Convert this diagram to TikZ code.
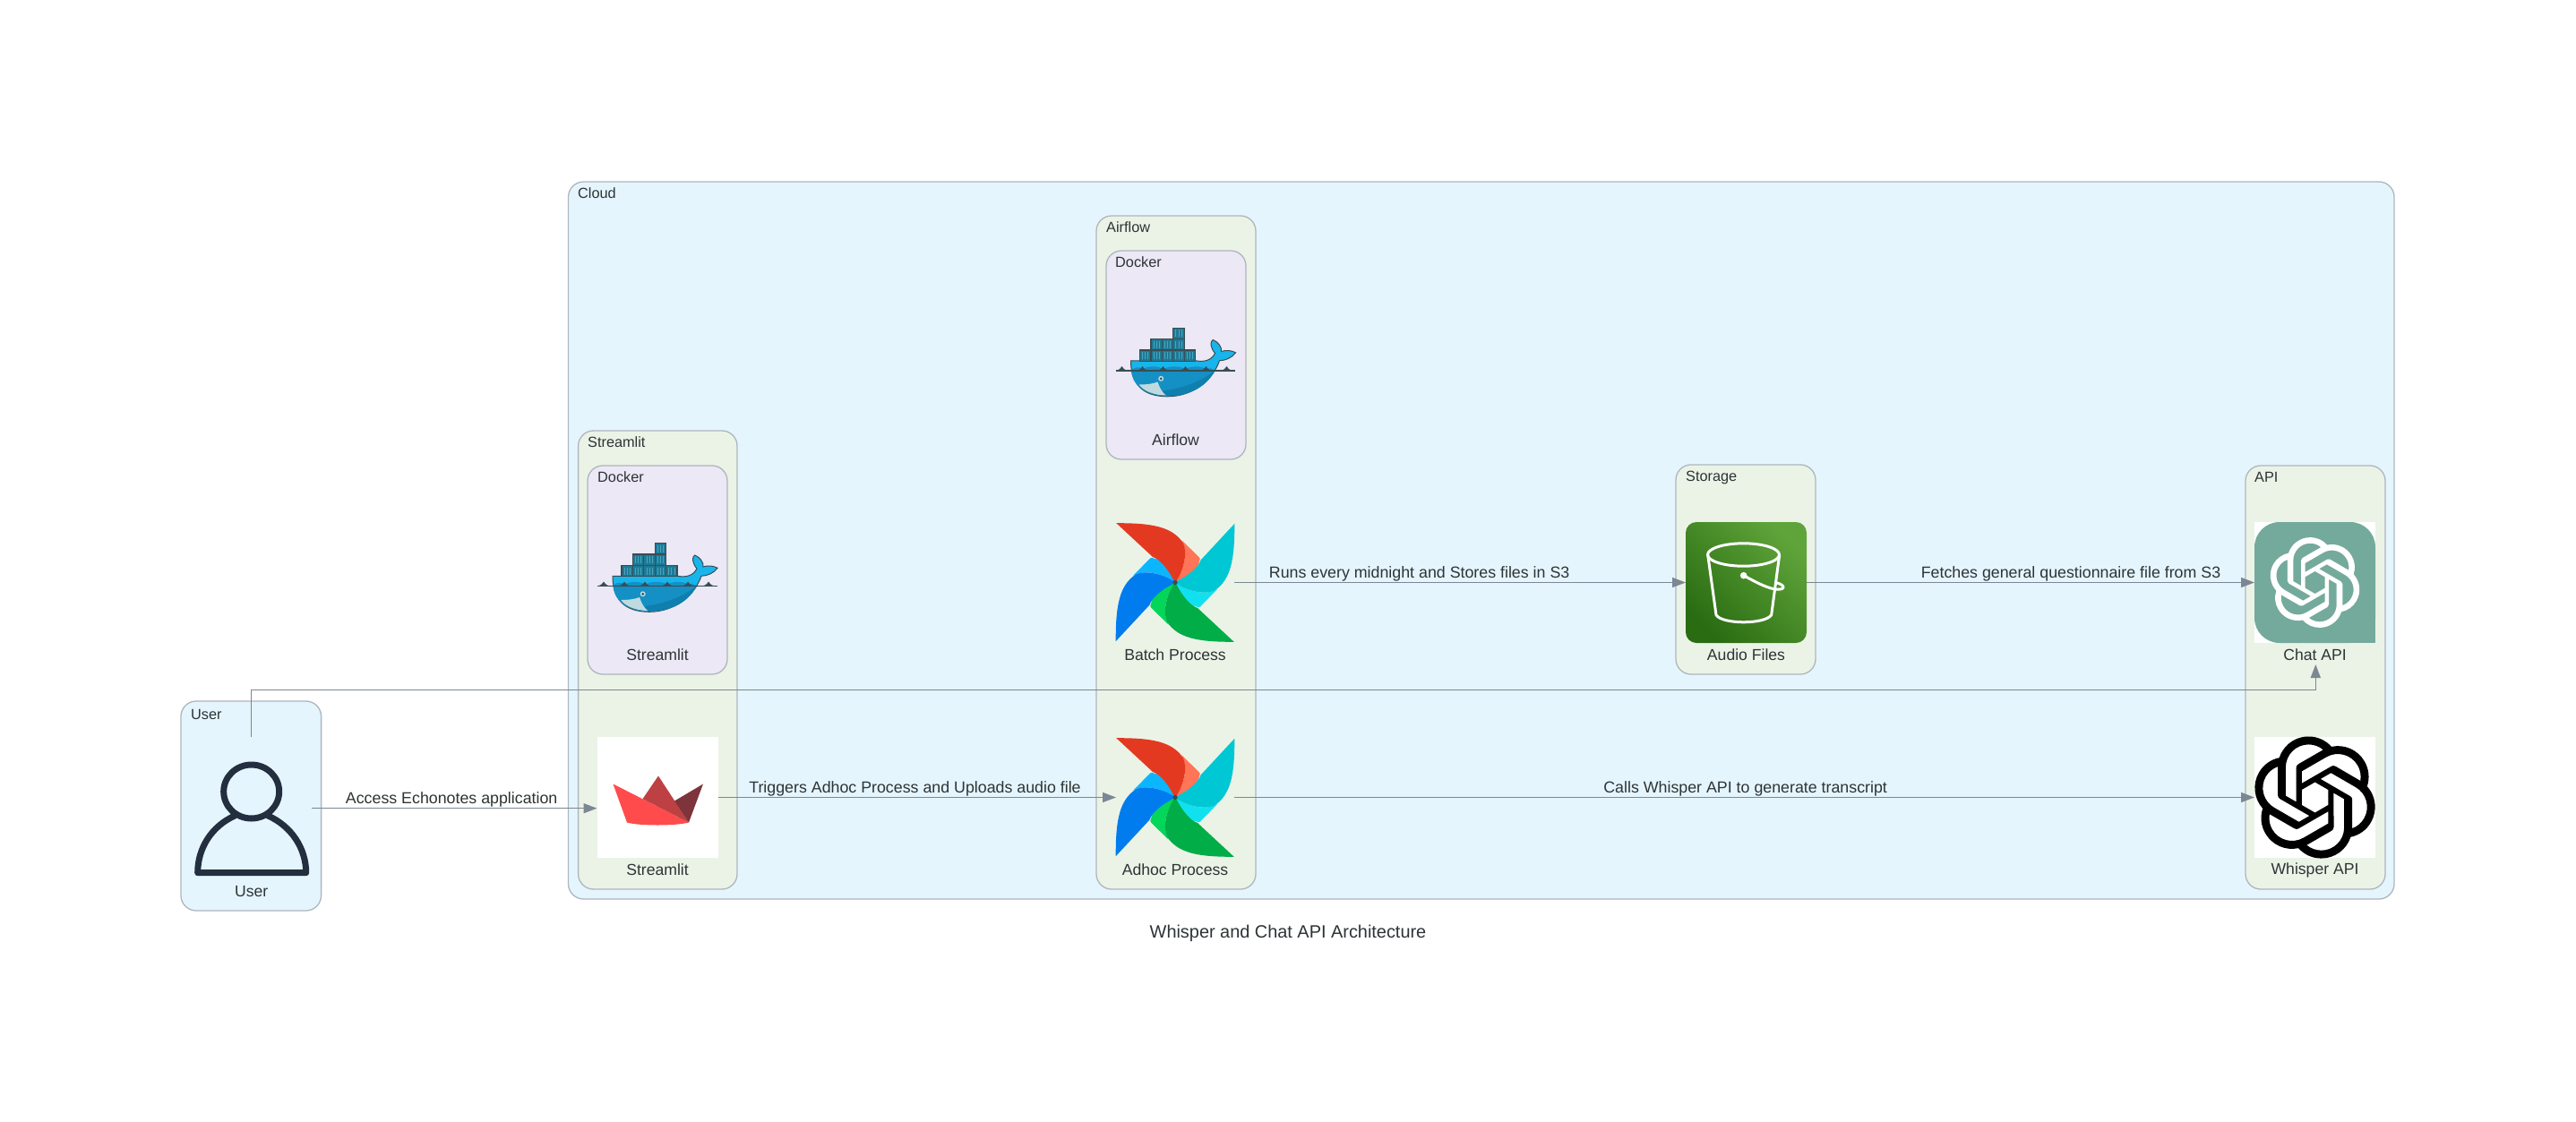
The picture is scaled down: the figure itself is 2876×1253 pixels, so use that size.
\documentclass[tikz,border=0pt]{standalone}
\usepackage{fontspec}
\setmainfont{Liberation Sans}
\usetikzlibrary{arrows.meta,svg.path}
\definecolor{clusterblue}{HTML}{E5F5FD}
\definecolor{clustergreen}{HTML}{EBF3E7}
\definecolor{clusterviolet}{HTML}{ECE8F6}
\definecolor{clusterline}{HTML}{AEB6BE}
\definecolor{edgegrey}{HTML}{7B8793}
\definecolor{inkgrey}{HTML}{2D3436}
\definecolor{persondark}{HTML}{232F3E}
\definecolor{chatgreen}{HTML}{74AA9C}
\definecolor{bucketlow}{HTML}{2A6C12}
\definecolor{buckethigh}{HTML}{5FA43A}
\definecolor{millred}{HTML}{E43921}
\definecolor{millsalmon}{HTML}{FF7557}
\definecolor{millcyan}{HTML}{00C7D4}
\definecolor{millaqua}{HTML}{11E1EE}
\definecolor{millgreen}{HTML}{00AD46}
\definecolor{milllime}{HTML}{04D659}
\definecolor{millblue}{HTML}{017CEE}
\definecolor{millsky}{HTML}{0CB6FF}
\definecolor{crownred}{HTML}{FF4B4B}
\definecolor{crownmid}{HTML}{BD4043}
\definecolor{crowndark}{HTML}{7D353B}
\definecolor{whaleline}{HTML}{394D54}
\definecolor{whaletop}{HTML}{17B5EB}
\definecolor{whalebody}{HTML}{1490C4}
\definecolor{whaledeep}{HTML}{0F7FAE}
\definecolor{whalebelly}{HTML}{BFDBE0}
\definecolor{boxteal}{HTML}{1E7A96}
\definecolor{boxlight}{HTML}{47A6BE}
\newcommand{\personlogo}[1]{
  \begin{scope}[shift={(#1)},draw=persondark,line width=7pt,line join=round]
    \draw (0,-18.7) ellipse (31pt and 30pt);
    \draw (-18,8) .. controls (-45,20) and (-60,45) .. (-60,72) -- (61,72)
      .. controls (61,45) and (45,20) .. (18,8);
  \end{scope}
}
\newcommand{\crownlogo}[1]{
  \begin{scope}[shift={(#1)}]
    \fill[crownred,line join=round] (-49.5,-15) -- (35,28) .. controls (20,32) and (-20,32) .. (-34,28) -- cycle;
    \fill[crownmid] (-16.5,1.7) -- (1,-24) -- (35,28) -- cycle;
    \fill[crowndark] (19,4) -- (51,-15) -- (35,28) -- cycle;
  \end{scope}
}
\newcommand{\dockerwhale}[1]{
  \begin{scope}[shift={(#1)}]
    % hull
    \fill[whaletop,draw=whaleline,line width=1pt] (-50,-2.7) -- (22.7,-2.7)
      .. controls (32,-1) and (40,-3) .. (44,-11)
      .. controls (39,-17) and (38,-24) .. (41.7,-26)
      .. controls (47,-24) and (52,-18) .. (51,-13)
      .. controls (56,-15) and (63,-14) .. (67,-11.7)
      .. controls (63,-6) and (56,-3) .. (49,-2.7)
      .. controls (42,18) and (20,37.3) .. (-9,37.3)
      .. controls (-38,37.3) and (-50,22) .. (-50,-2.7) -- cycle;
    \fill[whalebody] (-49.5,7.5) .. controls (-44,4) and (-40,4) .. (-37,6.5)
      .. controls (-30,3) and (-20,3) .. (-14,6.5)
      .. controls (-6,3) and (4,3) .. (11,6.5)
      .. controls (18,3) and (28,3) .. (34,6.5)
      .. controls (38,5) and (41,6) .. (44,8)
      .. controls (36,24) and (18,36.8) .. (-9,36.8)
      .. controls (-36,36.8) and (-49.5,22) .. cycle;
    \fill[whaledeep] (44,8) .. controls (36,24) and (18,36.8) .. (-9,36.8)
      .. controls (-18,36.8) and (-25,35) .. (-30,32)
      .. controls (-5,32) and (25,24) .. cycle;
    \fill[whalebelly] (-40.7,24) .. controls (-32,24) and (-25,23) .. (-20,21)
      .. controls (-18,27) and (-15,33) .. (-10.7,36)
      .. controls (-24,36) and (-36,31) .. cycle;
    \draw[whaleline,line width=1.6pt] (-66.7,8.3) -- (66.7,8.3);
    \foreach \wavex in {-60,-37,-14,11,34,57}
      \fill[whaleline] (\wavex-6,8.3) .. controls (\wavex-2,7) and (\wavex-1,5) .. (\wavex,3.5)
        .. controls (\wavex+1,5) and (\wavex+2,7) .. (\wavex+6,8.3) -- cycle;
    \fill[whalebelly] (-16.3,17.3) circle (3pt);
    \fill[whaleline] (-16.3,17.3) circle (1.5pt);
    % containers
    \foreach \cx/\cy in {-40/-14.6,-27.6/-14.6,-15.2/-14.6,-2.8/-14.6,9.6/-14.6,-27.6/-27,-15.2/-27,-2.8/-27,-2.8/-39.4}{
      \fill[boxteal,draw=whaleline,line width=1.2pt] (\cx,\cy) rectangle ++(12.4,12.4);
      \foreach \cline in {3.1,6.2,9.3}
        \draw[boxlight,line width=.7pt] (\cx+\cline,\cy+2.2) -- ++(0,8);
    }
  \end{scope}
}
\newcommand{\airflowmill}[1]{
  \begin{scope}[shift={(#1)}]
    \foreach \ang/\bladelight in {0/millsalmon,90/millaqua,180/milllime,270/millsky}
      \fill[\bladelight,rotate=-\ang] (7.5,-47) -- (27,-28) .. controls (28,-26.5) and (28,-25) .. (27,-24)
        .. controls (26,-14) and (12,-5) .. (0,0)
        .. controls (12,-18) and (14,-35) .. cycle;
    \foreach \ang/\bladedark in {0/millred,90/millcyan,180/millgreen,270/millblue}
      \fill[\bladedark,rotate=-\ang] (-65.7,-66.3) .. controls (-25,-66.5) and (-3,-62) .. (9,-44)
        .. controls (14,-33) and (10,-15) .. (1,-1) -- (-2,-3)
        .. controls (-8,-15) and (-17,-26) .. (-25,-28.5) -- cycle;
    \fill[whaleline] (0,0) circle (2.7pt);
  \end{scope}
}
\newcommand{\bucketlogo}[1]{
  \begin{scope}[shift={(#1)},draw=white,line width=3pt,line join=round]
    \draw (-3,-31) ellipse (40pt and 12.7pt);
    \draw (-42.8,-31) -- (-33.5,36.2) .. controls (-27,47) and (21,47) .. (28.2,36.2) -- (37.2,-31);
    \fill[white] (-2.8,-7.8) circle (3.8pt);
    \draw (-2.8,-7.8) .. controls (8,-2) and (20,5) .. (32,7.5)
      .. controls (44,9) and (45,3) .. (33,0);
  \end{scope}
}
\newcommand{\openailogo}[3]{
  \begin{scope}[shift={(#2)},scale=#3,yscale=-1,shift={(-12pt,-12pt)}]
    \fill[#1,even odd rule] svg {M 22.2819 9.8211 a 5.9847 5.9847 0 0 0 -.5157 -4.9108 a 6.0462 6.0462 0 0 0 -6.5098 -2.9 A 6.0651 6.0651 0 0 0 4.9807 4.1818 a 5.9847 5.9847 0 0 0 -3.9977 2.9 a 6.0462 6.0462 0 0 0 .7427 7.0966 a 5.98 5.98 0 0 0 .511 4.9107 a 6.051 6.051 0 0 0 6.5146 2.9001 A 5.9847 5.9847 0 0 0 13.2599 24 a 6.0557 6.0557 0 0 0 5.7718 -4.2058 a 5.9894 5.9894 0 0 0 3.9977 -2.9001 a 6.0557 6.0557 0 0 0 -.7475 -7.0729 z
      M 13.2599 22.4292 a 4.4755 4.4755 0 0 1 -2.8764 -1.0408 l .1419 -.0804 l 4.7783 -2.7582 a .7948 .7948 0 0 0 .3927 -.6813 v -6.7369 l 2.02 1.1686 a .071 .071 0 0 1 .038 .052 v 5.5826 a 4.504 4.504 0 0 1 -4.4945 4.4944 z
      M 3.5992 18.3038 a 4.4708 4.4708 0 0 1 -.5346 -3.0137 l .142 .0852 l 4.783 2.7582 a .7712 .7712 0 0 0 .7806 0 l 5.8428 -3.3685 v 2.3324 a .0804 .0804 0 0 1 -.0332 .0615 L 9.74 19.9502 a 4.4992 4.4992 0 0 1 -6.1408 -1.6464 z
      M 2.3408 7.8956 a 4.485 4.485 0 0 1 2.3655 -1.9728 V 11.6 a .7664 .7664 0 0 0 .3879 .6765 l 5.8144 3.3543 l -2.0201 1.1685 a .0757 .0757 0 0 1 -.071 0 l -4.8303 -2.7865 A 4.504 4.504 0 0 1 2.3408 7.872 z
      M 18.9371 11.7514 L 13.1038 8.364 L 15.1192 7.2 a .0757 .0757 0 0 1 .071 0 l 4.8303 2.7913 a 4.4944 4.4944 0 0 1 -.6765 8.1042 v -5.6772 a .79 .79 0 0 0 -.407 -.667 z
      M 20.9478 8.7283 l -.142 -.0852 l -4.7735 -2.7818 a .7759 .7759 0 0 0 -.7854 0 L 9.409 9.2297 V 6.8974 a .0662 .0662 0 0 1 .0284 -.0615 l 4.8303 -2.7866 a 4.4992 4.4992 0 0 1 6.6802 4.66 z
      M 8.3065 12.863 l -2.02 -1.1638 a .0804 .0804 0 0 1 -.038 -.0567 V 6.0742 a 4.4992 4.4992 0 0 1 7.3757 -3.4537 l -.142 .0805 L 8.704 5.459 a .7948 .7948 0 0 0 -.3927 .6813 z
      M 9.4041 10.4976 l 2.602 -1.4998 l 2.6069 1.4998 v 2.9994 l -2.5974 1.4997 l -2.6067 -1.4997 Z};
  \end{scope}
}
\begin{document}
\begin{tikzpicture}
    [
    x=1pt,y=-1pt,
    cluster/.style={draw=clusterline,line width=1.3pt,rounded corners=17pt,inner sep=0pt,outer sep=0pt},
    clustertext/.style={text=inkgrey,anchor=west,inner sep=0pt,font=\fontsize{16.3}{18}\selectfont},
    iconnode/.style={minimum width=135pt,minimum height=135pt,inner sep=0pt,outer sep=0pt},
    icontext/.style={text=inkgrey,inner sep=0pt,font=\fontsize{17.6}{20}\selectfont},
    edgeline/.style={draw=edgegrey,line width=1.4pt,-{Triangle[length=15pt,width=11pt]}},
    edgetext/.style={text=inkgrey,inner sep=0pt,text height=13pt,text depth=4pt,yshift=9.3pt,font=\fontsize{17.8}{20}\selectfont},
    ]
    \path[fill=white,use as bounding box] (0,0) rectangle (2876,1253);

    % clusters
    \node[cluster,fill=clusterblue,minimum width=156.6pt,minimum height=234pt] (usergroup) at (280.3,900) {};
    \node[cluster,fill=clusterblue,minimum width=2038.5pt,minimum height=801pt] (cloud) at (1653.75,603.5) {};
    \node[cluster,fill=clustergreen,minimum width=177.4pt,minimum height=512pt] (streamlitgroup) at (734.3,737) {};
    \node[cluster,fill=clusterviolet,minimum width=156pt,minimum height=233pt] (dockera) at (734,636.5) {};
    \node[cluster,fill=clustergreen,minimum width=178pt,minimum height=752pt] (airflowgroup) at (1313,617) {};
    \node[cluster,fill=clusterviolet,minimum width=156pt,minimum height=233pt] (dockerb) at (1313,396.5) {};
    \node[cluster,fill=clustergreen,minimum width=156pt,minimum height=234pt] (storage) at (1949,636) {};
    \node[cluster,fill=clustergreen,minimum width=156pt,minimum height=473pt] (api) at (2585,756.5) {};

    \node[clustertext] (usergrouptext) at (213,797.5) {User};
    \node[clustertext] (cloudtext) at (645,216) {Cloud};
    \node[clustertext] (streamlitgrouptext) at (656,494) {Streamlit};
    \node[clustertext] (dockeratext) at (667,533) {Docker};
    \node[clustertext] (airflowgrouptext) at (1235,254) {Airflow};
    \node[clustertext] (dockerbtext) at (1245,293) {Docker};
    \node[clustertext] (storagetext) at (1882,533) {Storage};
    \node[clustertext] (apitext) at (2517,533) {API};

    % icons
    \node[iconnode,minimum height=159.4pt] (user) at (280.7,902.7) {};
    \node[iconnode] (dockerstreamlit) at (734,646) {};
    \node[iconnode,fill=white] (streamlit) at (734,890.5) {};
    \node[iconnode] (dockerairflow) at (1312.5,405.5) {};
    \node[iconnode,minimum width=132pt] (batch) at (1312,650.5) {};
    \node[iconnode,minimum width=132pt] (adhoc) at (1312,890.5) {};
    \node[iconnode,bottom color=bucketlow,top color=buckethigh,shading angle=-45,rounded corners=12pt] (audio) at (1949.5,650.5) {};
    \node[iconnode,fill=white] (chatapi) at (2584.5,650.5) {};
    \node[iconnode,fill=white] (whisper) at (2584.5,890.5) {};

    \personlogo{user.center}
    \dockerwhale{dockerstreamlit.center}
    \crownlogo{streamlit.center}
    \dockerwhale{dockerairflow.center}
    \airflowmill{batch.center}
    \airflowmill{adhoc.center}
    \bucketlogo{audio.center}
    \fill[chatgreen,rounded corners=28pt] (chatapi.south west) rectangle (chatapi.north east);
    \fill[chatgreen] (chatapi.center) rectangle (chatapi.south east);
    \openailogo{white}{chatapi.center}{4.2}
    \openailogo{black}{whisper.center}{5.67}

    \node[icontext] (usertext) at (280.7,996) {User};
    \node[icontext] (dockerstreamlittext) at (734,731.5) {Streamlit};
    \node[icontext] (streamlittext) at (734,971.5) {Streamlit};
    \node[icontext] (dockerairflowtext) at (1312.5,491.5) {Airflow};
    \node[icontext] (batchtext) at (1312,731.5) {Batch Process};
    \node[icontext] (adhoctext) at (1312,971.5) {Adhoc Process};
    \node[icontext] (audiotext) at (1949.5,731.5) {Audio Files};
    \node[icontext] (chatapitext) at (2584.5,731.5) {Chat API};
    \node[icontext] (whispertext) at (2584.5,971.5) {Whisper API};

    \coordinate (userbend) at (280.7,770.7);
    \coordinate (chatapitip) at (2585.3,742);

    % connectors
    \draw[edgeline] (user) -- node[edgetext,pos=.49] (accesstext) {Access Echonotes application} (streamlit.west |- user);
    \draw[edgeline] (streamlit) -- node[edgetext,pos=.495] (triggertext) {Triggers Adhoc Process and Uploads audio file} (adhoc);
    \draw[edgeline] (adhoc) -- node[edgetext,pos=.501] (callstext) {Calls Whisper API to generate transcript} (whisper);
    \draw[edgeline] (batch) -- node[edgetext,pos=.41] (runstext) {Runs every midnight and Stores files in S3} (audio);
    \draw[edgeline] (audio) -- node[edgetext,pos=.59] (fetchtext) {Fetches general questionnaire file from S3} (chatapi);
    \draw[edgeline] (user.north) -- (userbend) -| (chatapitip);

    \node[text=inkgrey,inner sep=0pt,font=\fontsize{19.9}{24}\selectfont] (titletext) at (1438,1042.5) {Whisper and Chat API Architecture};
  \end{tikzpicture}
\end{document}
